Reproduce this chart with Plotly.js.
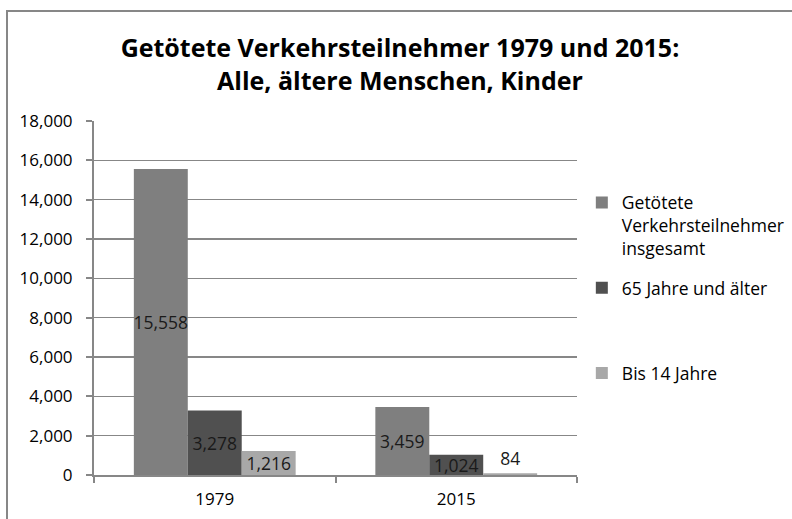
<!DOCTYPE html>
<html>
<head>
<meta charset="utf-8">
<script src="https://cdn.plot.ly/plotly-3.0.1.min.js"></script>
<style>
  html, body { margin: 0; padding: 0; background: #fff; }
  #wrap { position: relative; width: 792px; height: 519px; overflow: hidden; }
  #chart { position: absolute; left: 0; top: 0; width: 792px; height: 519px; }
  #frame {
    position: absolute; left: 6px; top: 10px; width: 800px; height: 520px;
    border-top: 2px solid #878787; border-left: 2px solid #878787;
    pointer-events: none;
  }
</style>
</head>
<body>
<div id="wrap">
  <div id="chart"></div>
  <div id="frame"></div>
</div>
<script>
const years = ['1979', '2015'];
const seriesNames = [
  'Getötete<br>Verkehrsteilnehmer<br>insgesamt',
  '65 Jahre und älter<br>&nbsp;<br>&nbsp;',
  'Bis 14 Jahre',
];
const totalKilled = [15558, 3459];
const age65Plus = [3278, 1024];
const upTo14 = [1216, 84];

const colors = ['#7f7f7f', '#505050', '#a8a8a8'];
const fontFamily = '"Open Sans", "DejaVu Sans", sans-serif';

function makeBar(name, values, color, group, positions) {
  return {
    type: 'bar',
    name,
    x: years,
    y: values,
    marker: { color },
    legendgroup: group,
    text: values.map((v) => v.toLocaleString('en-US')),
    textposition: positions,
    textangle: 0,
    insidetextanchor: 'middle',
    constraintext: 'none',
    textfont: { family: fontFamily, size: 17.5, color: '#1a1a1a' },
    cliponaxis: false,
    hoverinfo: 'x+y',
  };
}

const traces = [
  makeBar(seriesNames[0], totalKilled, colors[0], 'a', 'inside'),
  makeBar(seriesNames[1], age65Plus, colors[1], 'b', 'inside'),
  makeBar(seriesNames[2], upTo14, colors[2], 'c', ['inside', 'outside']),
];

const layout = {
  width: 792,
  height: 519,
  margin: { l: 94, r: 215, t: 121, b: 44, autoexpand: false },
  paper_bgcolor: '#ffffff',
  plot_bgcolor: '#ffffff',
  font: { family: fontFamily, size: 17.5, color: '#000' },
  title: {
    text: 'Getötete Verkehrsteilnehmer 1979 und 2015:<br>Alle, ältere Menschen, Kinder',
    font: { family: fontFamily, size: 25, color: '#000', weight: 'bold' },
    x: 0.505,
    xanchor: 'center',
    y: 0.89,
    yref: 'container',
    yanchor: 'middle',
  },
  barmode: 'group',
  bargap: 0.33,
  bargroupgap: 0,
  showlegend: true,
  legend: {
    x: 1.01,
    xref: 'paper',
    xanchor: 'left',
    y: 0.82,
    yanchor: 'top',
    valign: 'top',
    tracegroupgap: 14,
    itemwidth: 30,
    font: { family: fontFamily, size: 17.5, color: '#000' },
    bgcolor: 'rgba(0,0,0,0)',
  },
  xaxis: {
    type: 'category',
    showline: true,
    linecolor: '#878787',
    linewidth: 2,
    ticks: 'outside',
    tickson: 'boundaries',
    ticklen: 6,
    tickwidth: 2,
    tickcolor: '#878787',
    ticklabelstandoff: 8,
    showgrid: false,
    tickfont: { family: fontFamily, size: 17, color: '#000' },
  },
  yaxis: {
    range: [0, 18000],
    dtick: 2000,
    tickformat: ',d',
    showline: true,
    linecolor: '#878787',
    linewidth: 2,
    ticks: 'outside',
    ticklen: 6,
    tickwidth: 2,
    tickcolor: '#878787',
    ticklabelstandoff: 10,
    showgrid: true,
    gridcolor: '#878787',
    gridwidth: 1.5,
    zeroline: false,
    tickfont: { family: fontFamily, size: 17, color: '#000' },
  },
};

Plotly.newPlot('chart', traces, layout, { displayModeBar: false, staticPlot: true });
</script>
</body>
</html>
